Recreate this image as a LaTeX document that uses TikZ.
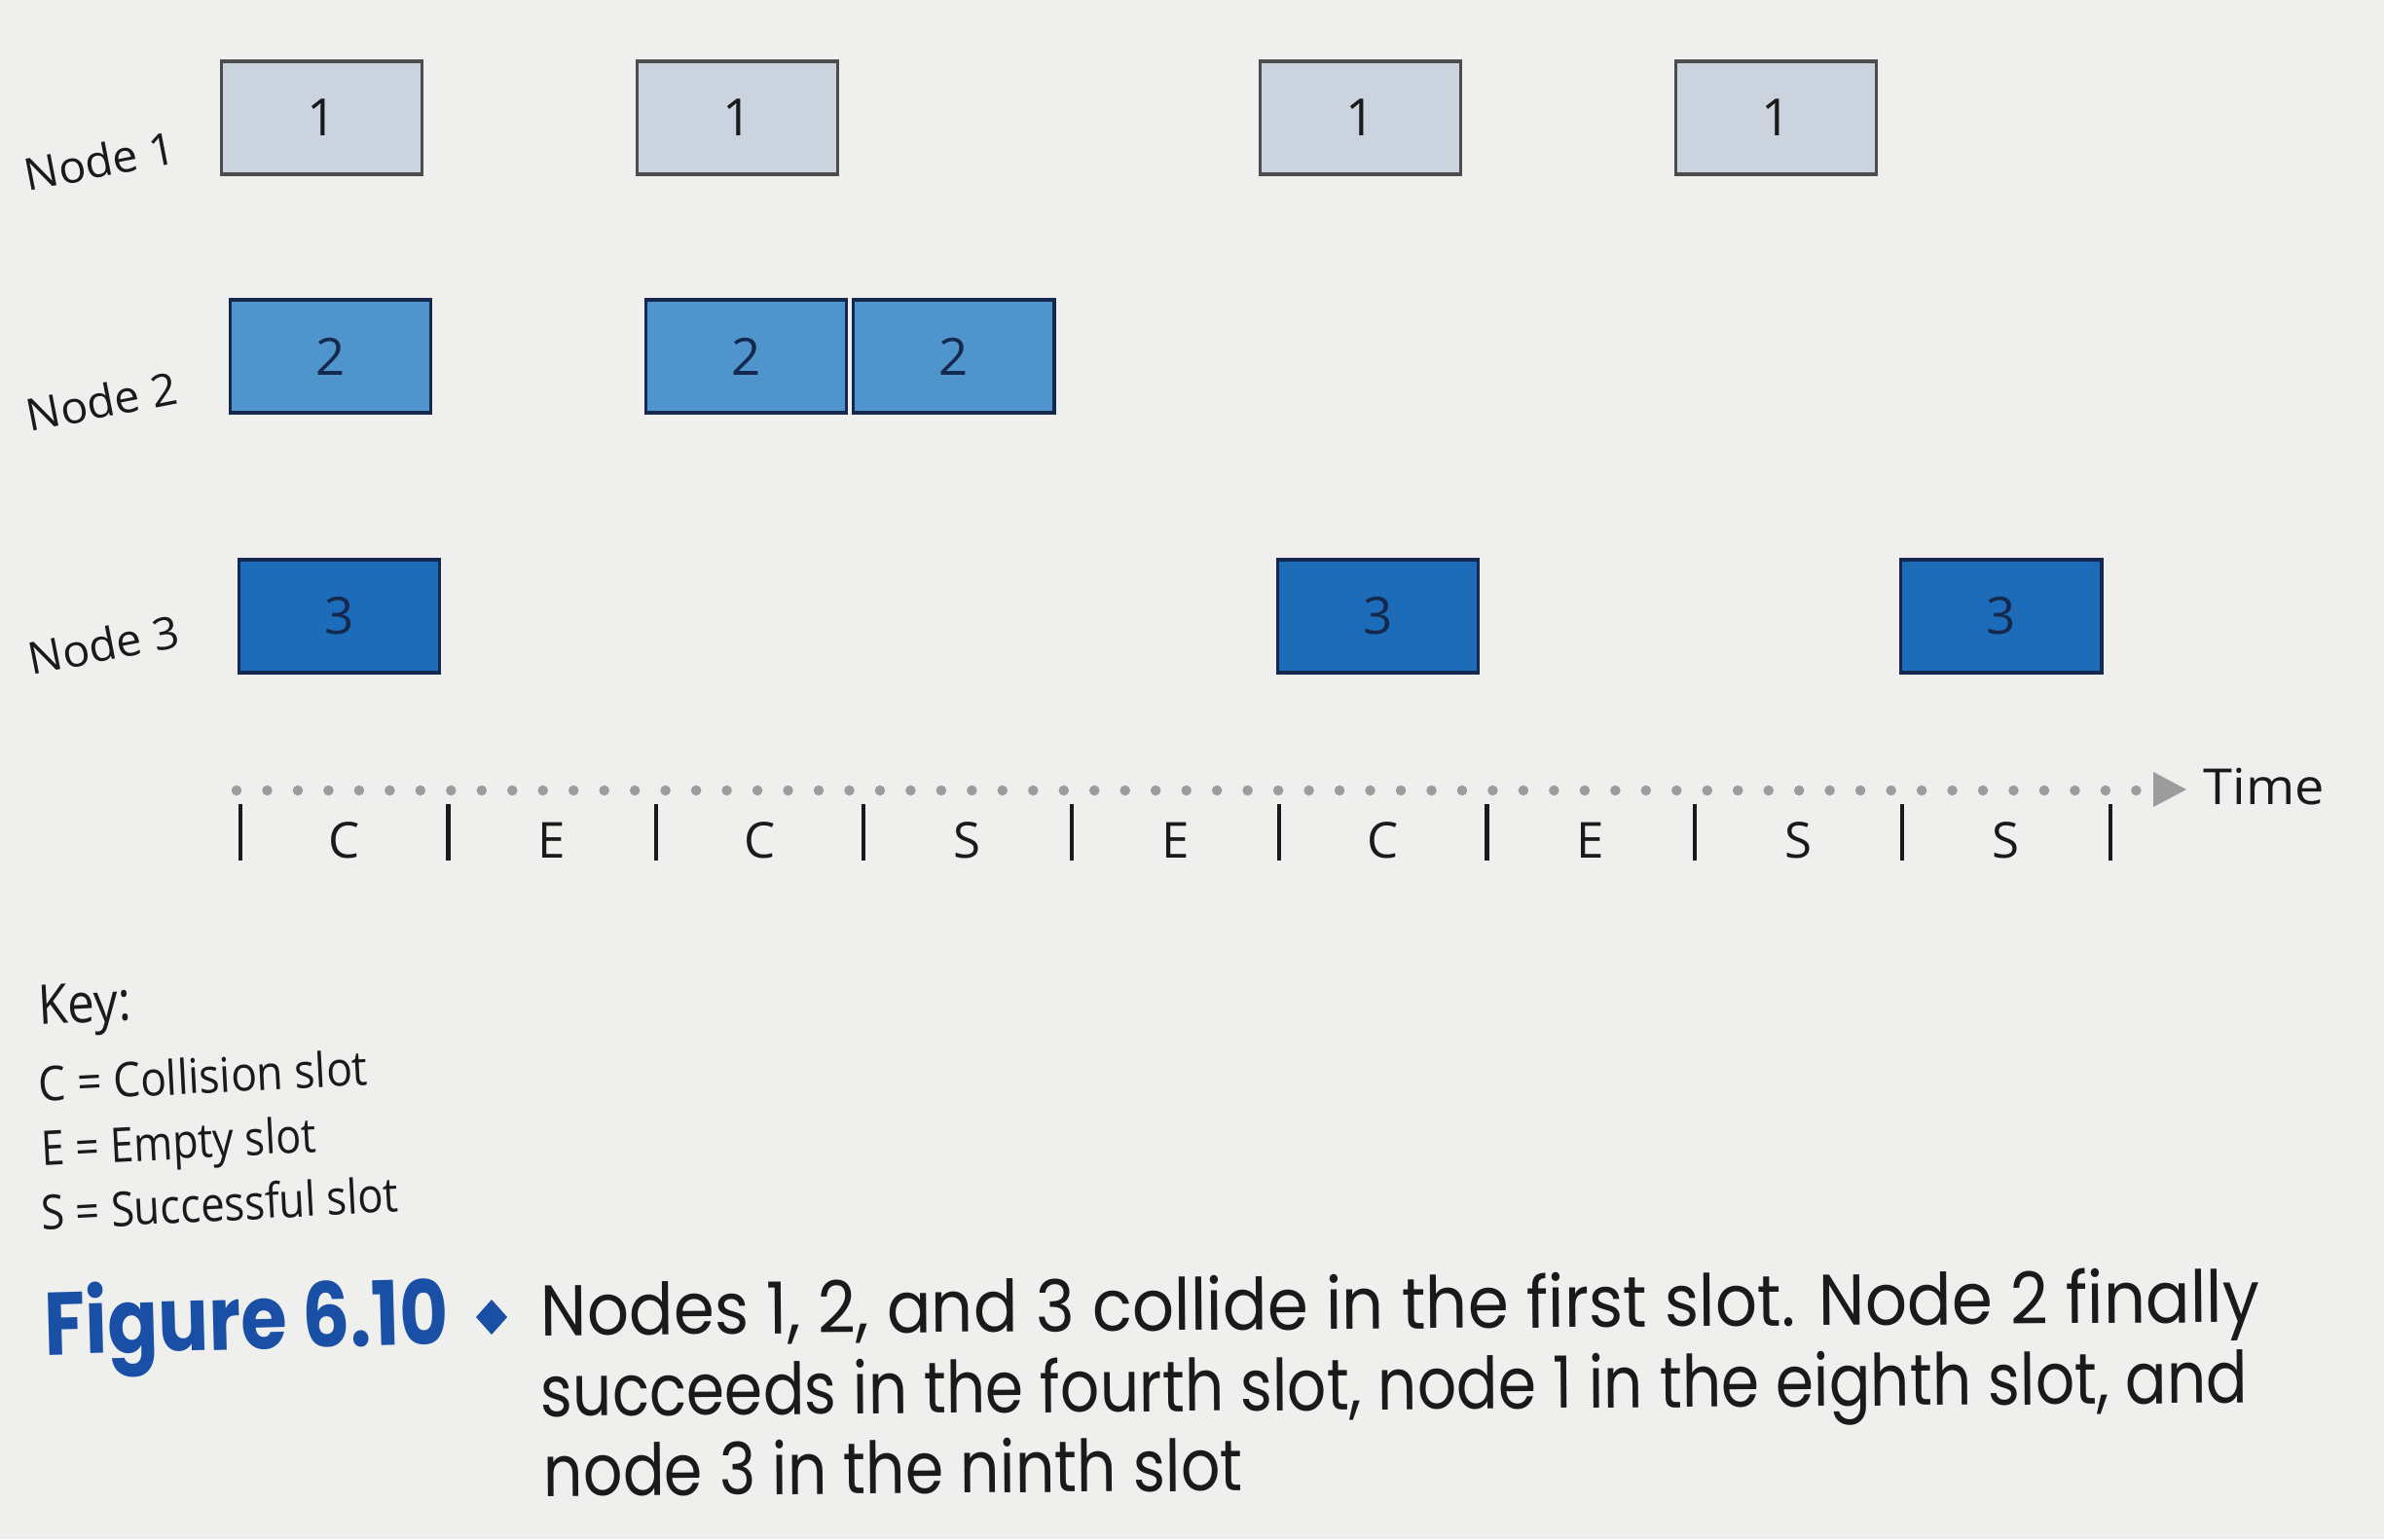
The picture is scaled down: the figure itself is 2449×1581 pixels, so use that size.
\documentclass[tikz,border=0pt]{standalone}
\usepackage{fontspec}
\usepackage{graphicx}
\setmainfont{Open Sans}
\newfontfamily\capfont{Poppins}
\definecolor{page}{HTML}{EFEFED}
\definecolor{nodeA}{HTML}{CBD4DE}
\definecolor{nodeB}{HTML}{4F94CD}
\definecolor{nodeC}{HTML}{1C6CBA}
\definecolor{navy}{HTML}{15284D}
\definecolor{dotgray}{HTML}{9C9C9C}
\definecolor{figblue}{HTML}{1A4FA6}
\definecolor{ink}{HTML}{1A1A1A}
\newsavebox\fitbox
\newcommand\fitx[2]{\sbox\fitbox{#2}\pgfmathsetmacro\fitf{#1/\the\wd\fitbox}\scalebox{\fitf}[1]{\usebox\fitbox}}
\newcommand\capstyle{\capfont\fontsize{21}{25}\selectfont}
\begin{document}%
\begin{tikzpicture}[x=0.01cm,y=-0.01cm,
  pkt/.style={draw, line width=0.9pt, minimum width=2.06cm, minimum height=1.16cm, inner sep=0pt, anchor=west, font=\fontsize{15}{17}\selectfont},
  pktA/.style={pkt, fill=nodeA, draw=black!70, text=ink},
  pktB/.style={pkt, fill=nodeB, draw=navy, text=navy},
  pktC/.style={pkt, fill=nodeC, draw=navy, text=navy},
  nodelabel/.style={anchor=base west, rotate=11, inner sep=0pt, text=ink, font=\fontsize{13}{15}\selectfont},
  tickmark/.style={line width=1.2pt, ink},
  slotletter/.style={anchor=base, inner sep=0pt, text=ink, font=\fontsize{14.5}{16}\selectfont},
  keytext/.style={anchor=base west, rotate=3, inner sep=0pt, text=ink, font=\fontsize{14}{16}\selectfont},
  captext/.style={anchor=base west, rotate=0.45, inner sep=0pt, text=ink}
]
\fill[page] (0,0) rectangle (2449,1581);
\useasboundingbox (0,0) rectangle (2449,1581);

% node labels
\node[nodelabel] (lab1) at (28,197) {\fitx{44.5}{Node 1}};
\node[nodelabel] (lab2) at (30,444) {\fitx{44.5}{Node 2}};
\node[nodelabel] (lab3) at (32,694) {\fitx{44.5}{Node 3}};

% packets
\foreach \s/\n in {1/a,3/b,6/c,8/d}
  \node[pktA] (p1\n) at ({247+(\s-1)*213.4-21},121) {1};
\foreach \s/\n in {1/a,3/b,4/c}
  \node[pktB] (p2\n) at ({247+(\s-1)*213.4-12},366) {2};
\foreach \s/\n in {1/a,6/b,9/c}
  \node[pktC] (p3\n) at ({247+(\s-1)*213.4-3},633) {3};

% time axis
\coordinate (ax0) at (243,812);
\coordinate (ax1) at (2196,812);
\coordinate (axtip) at (2246,811);
\draw[dotgray, line width=3pt, line cap=round, dash pattern=on 0pt off 8.95pt] (ax0) -- (ax1);
\fill[dotgray] (axtip) -- ++(-34,-18) -- ++(0,36) -- cycle;
\node[anchor=base west, inner sep=0pt, text=ink, font=\fontsize{14.5}{16}\selectfont] (time) at (2263,826) {\fitx{35.3}{Time}};

% slot boundaries and letters
\foreach \k in {0,...,9}
  \draw[tickmark] ({247+\k*213.4},826) -- ++(0,58);
\foreach [count=\k] \L in {C,E,C,S,E,C,E,S,S}
  \node[slotletter] (slot\k) at ({247+(\k-0.5)*213.4},881) {\L};

% key
\node[keytext, font=\fontsize{16}{18}\selectfont] (key) at (40,1053) {\fitx{27}{Key:}};
\node[keytext] (keyC) at (40,1132) {\fitx{96.2}{C = Collision slot}};
\node[keytext] (keyE) at (43,1198) {\fitx{80.2}{E = Empty slot}};
\node[keytext] (keyS) at (43,1264) {\fitx{104.4}{S = Successful slot}};

% caption
\node[captext, rotate=1.1, text=figblue] (figlabel) at (46,1392) {\fitx{118}{\capfont\bfseries\fontsize{26}{30}\selectfont Figure 6.10}};
\coordinate (dia) at (505,1353);
\fill[figblue] (dia) +(0,-18) -- +(16,0) -- +(0,18) -- +(-16,0) -- cycle;
\node[captext] (cap1) at (555,1372) {\fitx{502.2}{\capstyle Nodes 1, 2, and 3 collide in the first slot. Node 2 finally}};
\node[captext] (cap2) at (555,1455) {\fitx{498.8}{\capstyle succeeds in the fourth slot, node 1 in the eighth slot, and}};
\node[captext] (cap3) at (558,1537) {\fitx{204.3}{\capstyle node 3 in the ninth slot}};
\end{tikzpicture}%
\end{document}
